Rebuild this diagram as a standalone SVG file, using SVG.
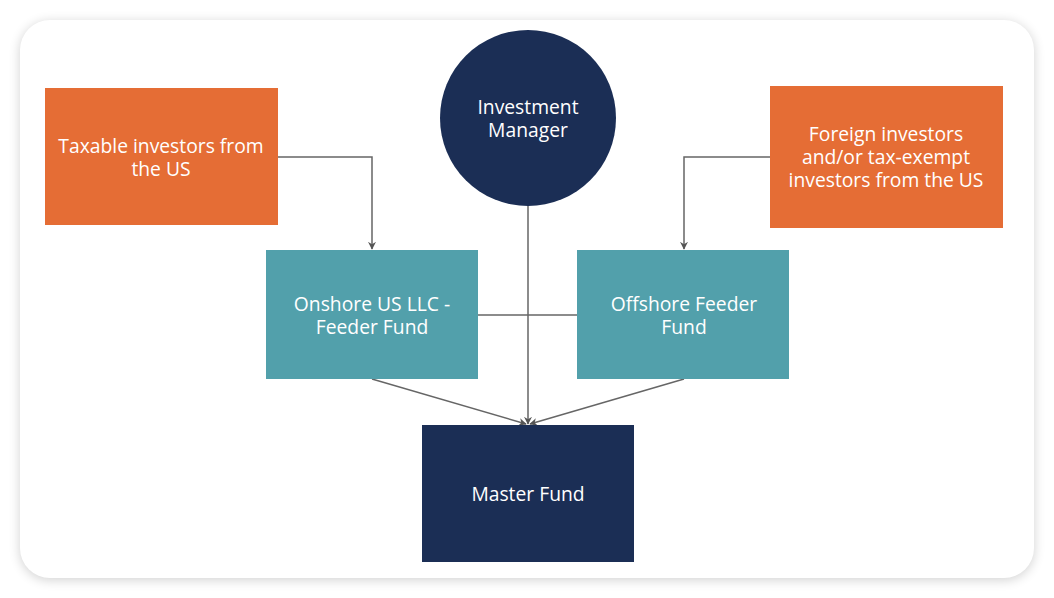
<svg xmlns="http://www.w3.org/2000/svg" width="1054" height="598" viewBox="0 0 1054 598">
<style>
text{font-family:"Open Sans","Liberation Sans",sans-serif;font-size:19.3px;fill:#ffffff;text-anchor:middle}
.c{stroke:#666;stroke-width:1.5;fill:none}
.o{fill:#E56D35}
.t{fill:#52A0AB}
.n{fill:#1B2E55}
</style>
<defs>
<marker id="ar" viewBox="0 0 10 10" refX="9" refY="5" markerWidth="8" markerHeight="8" orient="auto" markerUnits="userSpaceOnUse">
<path d="M0,0 L10,5 L0,10 L3,5 Z" fill="#555"/>
</marker>
<filter id="sh" x="-5%" y="-5%" width="110%" height="110%">
<feGaussianBlur stdDeviation="6"/>
</filter>
</defs>
<rect width="1054" height="598" fill="#ffffff"/>
<rect x="20" y="22" width="1014" height="558" rx="30" fill="#000" opacity="0.18" filter="url(#sh)"/>
<rect x="20" y="20" width="1014" height="558" rx="30" fill="#ffffff"/>
<g id="connectors">
<path class="c" d="M278,157 H372 V249" marker-end="url(#ar)"/>
<path class="c" d="M770,157 H684 V249" marker-end="url(#ar)"/>
<path class="c" d="M528,206 V424" marker-end="url(#ar)"/>
<path class="c" d="M478,315 H577"/>
<path class="c" d="M372,379 L526,424" marker-end="url(#ar)"/>
<path class="c" d="M684,379 L530,424" marker-end="url(#ar)"/>
</g>
<g id="taxable">
<rect class="o" x="45" y="88" width="233" height="137"/>
<text x="161" y="153">Taxable investors from<tspan x="161" dy="23">the US</tspan></text>
</g>
<g id="foreign">
<rect class="o" x="770" y="86" width="233" height="142"/>
<text x="886" y="141">Foreign investors<tspan x="886" dy="23">and/or tax-exempt</tspan><tspan x="886" dy="23">investors from the US</tspan></text>
</g>
<g id="manager">
<circle class="n" cx="528" cy="118" r="88"/>
<text x="528" y="114">Investment<tspan x="528" dy="23">Manager</tspan></text>
</g>
<g id="onshore">
<rect class="t" x="266" y="250" width="212" height="129"/>
<text x="372" y="311">Onshore US LLC -<tspan x="372" dy="23">Feeder Fund</tspan></text>
</g>
<g id="offshore">
<rect class="t" x="577" y="250" width="212" height="129"/>
<text x="684" y="311">Offshore Feeder<tspan x="684" dy="23">Fund</tspan></text>
</g>
<g id="master">
<rect class="n" x="422" y="425" width="212" height="137"/>
<text x="528" y="501">Master Fund</text>
</g>
</svg>
